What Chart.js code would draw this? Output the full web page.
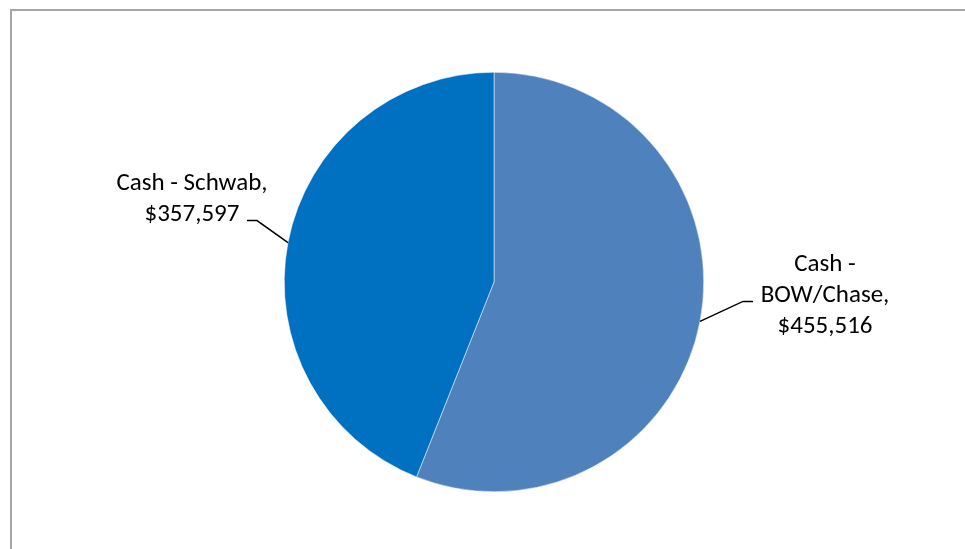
<!DOCTYPE html>
<html>
<head>
<meta charset="utf-8">
<script src="https://cdn.jsdelivr.net/npm/chart.js@4"></script>
<style>
  html, body { margin: 0; padding: 0; background: #fff; }
  #wrap { width: 965px; height: 549px; position: relative; }
</style>
</head>
<body>
<div id="wrap"><canvas id="camembert"></canvas></div>
<script>
let comptes = ['Cash - BOW/Chase', 'Cash - Schwab'];
let soldes = [455516, 357597];
let couleurs = ['#4F81BD', '#0070C0'];

// lignes de texte de chaque etiquette + position relative (coude de la ligne)
let etiquettes = [
    { lignes: ['Cash -', 'BOW/Chase,'], coude: [43, -20], trait: 10, texte: [125, -50] },
    { lignes: ['Cash - Schwab,'], coude: [-31, -22], trait: -10, texte: [-96, -53] }
];

function format(v) {
    return '$' + v.toLocaleString('en-US');
}

// cadre gris autour du graphique
const cadre = {
    id: 'cadre',
    beforeDraw(chart) {
        let c = chart.ctx;
        c.save();
        c.strokeStyle = '#a6a6a6';
        c.lineWidth = 2;
        c.beginPath();
        c.moveTo(11, 549);
        c.lineTo(11, 10);
        c.lineTo(965, 10);
        c.stroke();
        c.restore();
    }
};

// etiquettes avec lignes de rappel
const rappel = {
    id: 'rappel',
    afterDatasetsDraw(chart) {
        let c = chart.ctx;
        let meta = chart.getDatasetMeta(0);
        c.save();
        c.font = '25px Carlito, Calibri, Lato, sans-serif';
        c.fillStyle = '#000';
        c.textAlign = 'center';
        c.textBaseline = 'alphabetic';
        meta.data.forEach((arc, i) => {
            let p = arc.getProps(['x', 'y', 'startAngle', 'endAngle', 'outerRadius'], true);
            let mid = (p.startAngle + p.endAngle) / 2;
            let ex = p.x + Math.cos(mid) * p.outerRadius;
            let ey = p.y + Math.sin(mid) * p.outerRadius;
            let e = etiquettes[i];
            let kx = ex + e.coude[0];
            let ky = ey + e.coude[1];
            c.strokeStyle = '#000';
            c.lineWidth = 1.5;
            c.beginPath();
            c.moveTo(ex, ey);
            c.lineTo(kx, ky);
            c.lineTo(kx + e.trait, ky);
            c.stroke();
            let lignes = e.lignes.concat([format(soldes[i])]);
            let tx = ex + e.texte[0];
            let ty = ey + e.texte[1];
            lignes.forEach((l, j) => {
                c.fillText(l, tx, ty + j * 31);
            });
        });
        c.restore();
    }
};

let ctx = document.getElementById('camembert').getContext('2d');
new Chart(ctx, {
    type: 'pie',
    data: {
        labels: comptes,
        datasets: [{
            data: soldes,
            backgroundColor: couleurs,
            borderColor: '#ffffff',
            borderWidth: 0.5
        }]
    },
    options: {
        responsive: true,
        maintainAspectRatio: false,
        animation: false,
        layout: { padding: { top: 72, bottom: 57, left: 23, right: 0 } },
        plugins: {
            legend: { display: false },
            tooltip: { enabled: false }
        }
    },
    plugins: [cadre, rappel]
});
</script>
</body>
</html>
